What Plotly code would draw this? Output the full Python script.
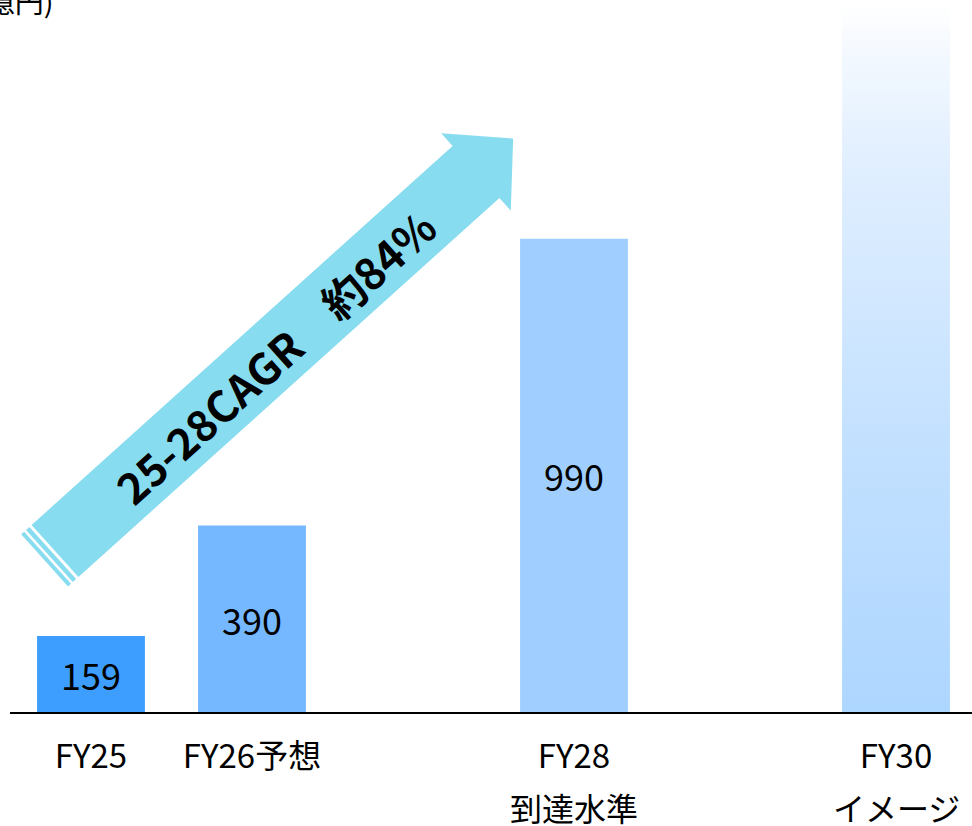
import math
import plotly.graph_objects as go

# ---- data ----
categories = ["FY25", "FY26予想", "FY28", "FY30"]
sublabels = ["", "", "到達水準", "イメージ"]
x_pos = [0, 1, 3, 5]
values = [159, 390, 990, 1480]
bar_colors = ["#3d9eff", "#75b8ff", "#a0cfff"]
cagr_label = "25-28CAGR　約84%"
unit_label = "(億円)"

FONT = "Noto Sans CJK JP"
W, H = 972, 826
M_L, M_R, M_T, M_B = 10, 0, 0, 114
PLOT_W = W - M_L - M_R
PLOT_H = H - M_T - M_B
BAR_W = 0.67
X_RANGE = [-0.503, 5.472]
Y_RANGE = [0, 1489.5]


def to_paper(px, py):
    """Convert page pixel coordinates to paper coordinates."""
    return (px - M_L) / PLOT_W, (M_T + PLOT_H - py) / PLOT_H


fig = go.Figure()

# Actual / forecast bars with value labels
fig.add_trace(go.Bar(
    x=x_pos[:3],
    y=values[:3],
    width=BAR_W,
    marker=dict(color=bar_colors, line=dict(width=0)),
    text=[str(v) for v in values[:3]],
    textposition="inside",
    insidetextanchor="middle",
    textfont=dict(family=FONT, size=36, color="black"),
    hoverinfo="skip",
    showlegend=False,
))

# Vision bar drawn as a filled polygon fading to white at the top
x5, v5 = x_pos[3], values[3]
fig.add_trace(go.Scatter(
    x=[x5 - BAR_W / 2, x5 + BAR_W / 2, x5 + BAR_W / 2, x5 - BAR_W / 2, x5 - BAR_W / 2],
    y=[0, 0, v5, v5, 0],
    mode="lines",
    line=dict(width=0, color="rgba(0,0,0,0)"),
    fill="toself",
    fillgradient=dict(
        type="vertical",
        colorscale=[
            [0.0, "#add6ff"],
            [0.4, "#c4e1ff"],
            [0.78, "#e1efff"],
            [0.92, "#f2f8ff"],
            [1.0, "#ffffff"],
        ],
    ),
    hoverinfo="skip",
    showlegend=False,
))

# ---- growth arrow (pixel geometry) ----
tail = (55.0, 551.0)
head_base = (476.0, 172.0)
dx, dy = head_base[0] - tail[0], head_base[1] - tail[1]
L = math.hypot(dx, dy)
d = (dx / L, dy / L)
n = (-d[1], d[0])
half_w, head_half, head_len = 35.0, 52.0, 50.0


def pt(base, along, across):
    return (base[0] + d[0] * along + n[0] * across,
            base[1] + d[1] * along + n[1] * across)


def path_from(points):
    coords = [to_paper(*p) for p in points]
    return "M " + " L ".join(f"{x:.5f},{y:.5f}" for x, y in coords) + " Z"


arrow_pts = [
    pt(tail, 0, -half_w),
    pt(head_base, 0, -half_w),
    pt(head_base, 0, -head_half),
    pt(head_base, head_len, 0),
    pt(head_base, 0, head_half),
    pt(head_base, 0, half_w),
    pt(tail, 0, half_w),
]
arrow_color = "#87dcf0"
shapes = [dict(type="path", xref="paper", yref="paper", path=path_from(arrow_pts),
               fillcolor=arrow_color, line=dict(width=0), layer="above")]
for a0, a1 in [(-3.0, -7.5), (-10.0, -14.0)]:
    stripe = [pt(tail, a0, -half_w), pt(tail, a0, half_w),
              pt(tail, a1, half_w), pt(tail, a1, -half_w)]
    shapes.append(dict(type="path", xref="paper", yref="paper", path=path_from(stripe),
                       fillcolor=arrow_color, line=dict(width=0), layer="above"))

angle = math.degrees(math.atan2(-dy, dx))
mx, my = to_paper(274, 356)

annotations = [
    dict(xref="paper", yref="paper", x=mx, y=my, text=f"<b>{cagr_label}</b>",
         textangle=-angle, showarrow=False, xanchor="center", yanchor="middle",
         font=dict(family=FONT, size=43, color="black")),
]

# Unit label at the top-left
ux, uy = to_paper(56, 0)
annotations.append(dict(xref="paper", yref="paper", x=ux, y=uy, text=unit_label,
                        showarrow=False, xanchor="right", yanchor="middle",
                        font=dict(family=FONT, size=29, color="black")))

# Second line of category labels
_, sub_y = to_paper(0, 807)
for xv, sub in zip(x_pos, sublabels):
    if sub:
        annotations.append(dict(xref="x", yref="paper", x=xv, y=sub_y, text=sub,
                                showarrow=False, xanchor="center", yanchor="middle",
                                font=dict(family=FONT, size=32, color="black")))

fig.update_layout(
    width=W, height=H,
    margin=dict(l=M_L, r=M_R, t=M_T, b=M_B, pad=0),
    paper_bgcolor="white", plot_bgcolor="white",
    font=dict(family=FONT, color="black"),
    showlegend=False,
    uniformtext=dict(minsize=36, mode="show"),
    xaxis=dict(
        range=X_RANGE, tickmode="array", tickvals=x_pos, ticktext=categories,
        showgrid=False, zeroline=False, showline=True, linecolor="black", linewidth=2,
        ticks="", ticklabelstandoff=14,
        tickfont=dict(family=FONT, size=33, color="black"),
        fixedrange=True,
    ),
    yaxis=dict(range=Y_RANGE, visible=False, showgrid=False, zeroline=False, fixedrange=True),
    shapes=shapes,
    annotations=annotations,
)

fig.write_html("out.html")
